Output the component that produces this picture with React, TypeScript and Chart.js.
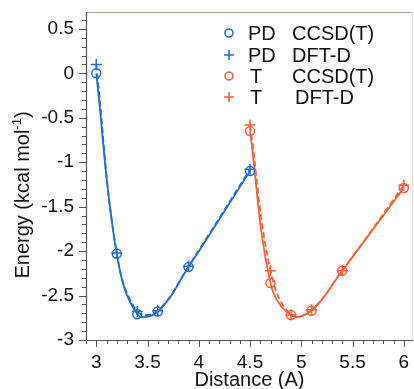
import React, { useEffect, useRef } from "react";
import { Chart, registerables } from "chart.js";

Chart.register(...registerables);

// ---- data ----
const pdDistance = [3.0, 3.2, 3.4, 3.6, 3.9, 4.5];
const pdCCSD = [0.0, -2.03, -2.71, -2.68, -2.18, -1.1];
const pdDFT = [0.1, -2.02, -2.68, -2.67, -2.17, -1.08];
const tDistance = [4.5, 4.7, 4.9, 5.1, 5.4, 6.0];
const tCCSD = [-0.65, -2.36, -2.72, -2.67, -2.22, -1.29];
const tDFT = [-0.58, -2.22, -2.72, -2.66, -2.22, -1.26];
const xTicks = [3, 3.5, 4, 4.5, 5, 5.5, 6];
const yTicks = [-3, -2.5, -2, -1.5, -1, -0.5, 0, 0.5];
const legendGeometry = ["PD", "PD", "T", "T"];
const legendMethod = ["CCSD(T)", "DFT-D", "CCSD(T)", "DFT-D"];

const BLUE = "#2c6cc2";
const ORANGE = "#f2643c";
const FONT = "'Liberation Sans', Arial, sans-serif";

const toXY = (xs: number[], ys: number[]) => xs.map((x, i) => ({ x, y: ys[i] }));

const decorPlugin = {
  id: "decor",
  afterDraw(chart: any) {
    const { ctx, chartArea: a, scales } = chart;
    const xs = scales.x;
    const ys = scales.y;
    ctx.save();
    // frame: top/right light
    ctx.lineWidth = 1;
    ctx.strokeStyle = "#b89a88";
    ctx.beginPath();
    ctx.moveTo(a.left, a.top + 0.5);
    ctx.lineTo(a.right, a.top + 0.5);
    ctx.stroke();
    ctx.strokeStyle = "#e8dcd6";
    ctx.beginPath();
    ctx.moveTo(a.right - 0.5, a.top);
    ctx.lineTo(a.right - 0.5, a.bottom);
    ctx.stroke();
    // axes
    ctx.strokeStyle = "#555";
    ctx.lineWidth = 1.2;
    ctx.beginPath();
    ctx.moveTo(a.left + 0.5, a.top);
    ctx.lineTo(a.left + 0.5, a.bottom + 0.5);
    ctx.lineTo(a.right, a.bottom + 0.5);
    ctx.stroke();
    // x ticks (major + minor)
    ctx.lineWidth = 1;
    for (let i = 29; i <= 61; i++) {
      const v = i / 10;
      const px = Math.round(xs.getPixelForValue(v)) + 0.5;
      if (px < a.left || px > a.right) continue;
      const major = i % 5 === 0;
      ctx.beginPath();
      ctx.moveTo(px, a.bottom);
      ctx.lineTo(px, a.bottom + (major ? 7 : 4));
      ctx.stroke();
    }
    for (let i = -30; i <= 7; i++) {
      const v = i / 10;
      const py = Math.round(ys.getPixelForValue(v)) + 0.5;
      if (py < a.top || py > a.bottom + 1) continue;
      const major = i % 5 === 0;
      ctx.beginPath();
      ctx.moveTo(a.left, py);
      ctx.lineTo(a.left - (major ? 7 : 4), py);
      ctx.stroke();
    }
    // x title
    ctx.fillStyle = "#111";
    ctx.font = `20px ${FONT}`;
    ctx.textAlign = "center";
    ctx.textBaseline = "alphabetic";
    ctx.fillText("Distance (A)", (a.left + a.right) / 2, 386);
    // y title with superscript
    ctx.save();
    ctx.translate(29, 195);
    ctx.rotate(-Math.PI / 2);
    const main = "Energy (kcal mol";
    const sup = "-1";
    const close = ")";
    ctx.font = `20px ${FONT}`;
    const w1 = ctx.measureText(main).width;
    const w3 = ctx.measureText(close).width;
    ctx.font = `13px ${FONT}`;
    const w2 = ctx.measureText(sup).width;
    const total = w1 + w2 + w3;
    let x0 = -total / 2;
    ctx.textAlign = "left";
    ctx.font = `20px ${FONT}`;
    ctx.fillText(main, x0, 0);
    ctx.font = `13px ${FONT}`;
    ctx.fillText(sup, x0 + w1, -8);
    ctx.font = `20px ${FONT}`;
    ctx.fillText(close, x0 + w1 + w2, 0);
    ctx.restore();
    // legend
    const rowsY = [33, 55, 76, 97];
    const colors = [BLUE, BLUE, ORANGE, ORANGE];
    ctx.font = `20px ${FONT}`;
    ctx.textAlign = "left";
    ctx.textBaseline = "middle";
    for (let i = 0; i < 4; i++) {
      const y = rowsY[i];
      ctx.strokeStyle = colors[i];
      ctx.lineWidth = 1.6;
      ctx.beginPath();
      if (i % 2 === 0) {
        ctx.arc(229, y, 4, 0, Math.PI * 2);
      } else {
        ctx.moveTo(224, y);
        ctx.lineTo(234, y);
        ctx.moveTo(229, y - 5);
        ctx.lineTo(229, y + 5);
      }
      ctx.stroke();
      ctx.fillStyle = "#111";
      ctx.fillText(legendGeometry[i], i < 2 ? 248 : 250, y + 1);
      ctx.fillText(legendMethod[i], i === 3 ? 295 : 292, y + 1);
    }
    ctx.restore();
  },
};

export default function App() {
  const ref = useRef<HTMLCanvasElement | null>(null);
  useEffect(() => {
    document.body.style.margin = "0";
    const canvas = ref.current!;
    const mk = (label: string, xs: number[], ys: number[], color: string, dashed: boolean, style: string) => ({
      label,
      data: toXY(xs, ys),
      borderColor: color,
      backgroundColor: "transparent",
      borderWidth: 1.8,
      borderDash: dashed ? [6, 3] : [],
      tension: 0.4,
      pointStyle: style,
      pointRadius: style === "circle" ? 4.5 : 5.5,
      pointBorderWidth: 1.5,
      pointBorderColor: color,
      pointBackgroundColor: "transparent",
      fill: false,
    });
    const chart = new Chart(canvas, {
      type: "scatter",
      data: {
        datasets: [
          mk("PD DFT-D", pdDistance, pdDFT, BLUE, true, "cross"),
          mk("PD CCSD(T)", pdDistance, pdCCSD, BLUE, false, "circle"),
          mk("T DFT-D", tDistance, tDFT, ORANGE, true, "cross"),
          mk("T CCSD(T)", tDistance, tCCSD, ORANGE, false, "circle"),
        ].map((d) => ({ ...d, showLine: true })) as any,
      },
      options: {
        animation: false,
        responsive: false,
        layout: { autoPadding: false, padding: { top: 12, right: 1, left: 0, bottom: 0 } },
        plugins: { legend: { display: false }, tooltip: { enabled: false } },
        scales: {
          x: {
            type: "linear",
            min: 2.9,
            max: 6.09,
            grid: { display: false, drawTicks: false },
            border: { display: false },
            afterBuildTicks: (s: any) => {
              s.ticks = xTicks.map((v) => ({ value: v }));
            },
            afterFit: (s: any) => {
              s.height = 49;
              s.paddingLeft = 0;
              s.paddingRight = 0;
            },
            ticks: {
              padding: 11,
              color: "#111",
              font: { family: FONT, size: 19 },
              maxRotation: 0,
              autoSkip: false,
              callback: (v: any) => String(v),
            },
          },
          y: {
            type: "linear",
            min: -3,
            max: 0.69,
            grid: { display: false, drawTicks: false },
            border: { display: false },
            afterBuildTicks: (s: any) => {
              s.ticks = yTicks.map((v) => ({ value: v }));
            },
            afterFit: (s: any) => {
              s.width = 86;
              s.paddingTop = 0;
              s.paddingBottom = 0;
            },
            ticks: {
              padding: 12,
              color: "#111",
              font: { family: FONT, size: 19 },
              autoSkip: false,
              callback: (v: any) => String(v),
            },
          },
        },
      },
      plugins: [decorPlugin],
    });
    return () => chart.destroy();
  }, []);
  return (
    <div style={{ position: "absolute", left: 0, top: 0, width: 414, height: 389, background: "#fff" }}>
      <canvas ref={ref} width={414} height={389} style={{ display: "block" }} />
    </div>
  );
}
